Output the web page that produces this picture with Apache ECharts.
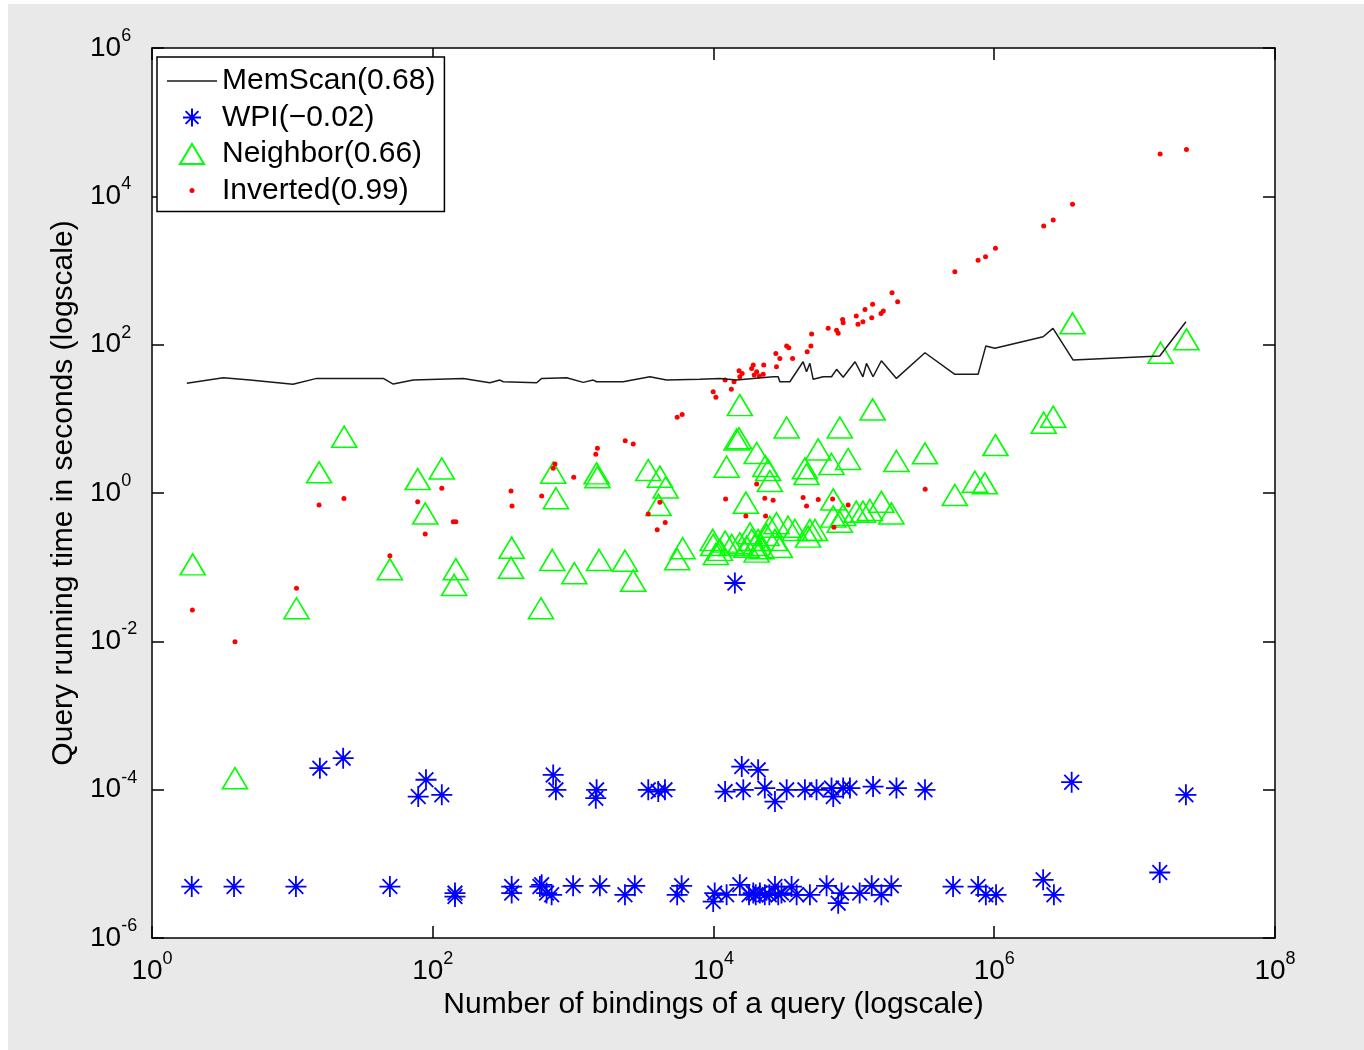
<!DOCTYPE html>
<html lang="en">
<head>
    <meta charset="UTF-8">
    <title>Query running time vs bindings</title>
    <script src="https://cdn.jsdelivr.net/npm/echarts@6/dist/echarts.min.js"></script>
    <style>
        html, body { margin: 0; padding: 0; background: #fff; }
        #chart { position: absolute; left: 8px; top: 4px; width: 1356px; height: 1046px; }
    </style>
</head>
<body>
<div id="chart"></div>

<script>
    // tick positions (every second decade)
    var xTicks = [1, 1e2, 1e4, 1e6, 1e8];
    var yTicks = [1e-6, 1e-4, 1e-2, 1, 1e2, 1e4, 1e6];

    // MemScan line (x = bindings, y = seconds)
    var memX = [1.77, 3.22, 4.99, 10.1, 14.9, 44.4, 52.3, 72.6, 165, 255, 301, 318, 550, 597, 899,
        1180, 1390, 1470, 2270, 3520, 4630, 8000, 11100, 14600, 19200, 26600, 28900, 29700, 35000,
        43500, 46000, 48600, 51300, 60400, 69300, 75300, 83900, 1.02e5, 1.16e5, 1.23e5, 1.37e5,
        1.57e5, 2.01e5, 3.21e5, 5.24e5, 7.67e5, 8.71e5, 1.01e6, 2.23e6, 2.62e6, 3.65e6, 1.51e7, 2.32e7];
    var memY = [30.1, 35.8, 33.3, 29.2, 35.1, 35.1, 29.4, 33.3, 35.1, 30.7, 33.3, 31.6, 30.7, 35.1, 35.8,
        31.0, 33.3, 31.6, 31.6, 36.9, 33.3, 34.1, 35.1, 33.3, 35.1, 36.9, 36.9, 31.6, 31.6,
        58.8, 43.1, 56.0, 34.1, 36.9, 36.9, 46.5, 36.3, 58.8, 36.9, 56.0, 36.9,
        60.7, 35.1, 77.8, 39.8, 39.8, 95.7, 89.2, 128, 166, 62.0, 70.2, 204];

    // WPI
    var wpiX = [1.92, 3.84, 10.6, 49.5, 144, 144, 365, 365, 580, 15.7, 23.0, 78.8, 89.5, 116, 721,
        754, 1470, 1450, 3430, 4040, 4510, 12100, 15900, 16300, 20800, 23200, 27400, 33200, 44800, 54200,
        69300, 71300, 83900, 93700, 1.37e5, 2.01e5, 3.21e5, 597, 703, 1000, 1550, 2340, 2750, 5510, 5930,
        9950, 10200, 12400, 15400, 19200, 21400, 23200, 27400, 28900, 36000, 39100, 48600, 63900, 77300, 81700,
        1.10e5, 1.34e5, 1.57e5, 1.85e5, 5.09e5, 7.67e5, 8.71e5, 1.03e6, 2.23e6, 2.66e6,
        1.51e7, 3.56e6, 2.32e7, 14200, 17900, 20000, 25000, 30500, 647];
    var wpiY = [4.94e-6, 4.94e-6, 4.94e-6, 4.94e-6, 4.03e-6, 3.62e-6, 4.94e-6, 4.03e-6, 4.94e-6,
        1.95e-4, 2.66e-4, 8.07e-5, 1.36e-4, 8.51e-5, 1.58e-4, 9.94e-5, 9.94e-5, 7.68e-5, 9.94e-5,
        9.42e-5, 9.94e-5, 9.42e-5, 2.05e-4, 9.94e-5, 1.85e-4, 1.05e-4, 6.91e-5, 9.94e-5, 9.94e-5,
        9.94e-5, 1.05e-4, 8.07e-5, 1.05e-4, 1.05e-4, 1.10e-4, 1.05e-4, 9.94e-5,
        5.21e-6, 3.82e-6, 5.06e-6, 5.06e-6, 3.82e-6, 5.06e-6, 3.82e-6, 5.06e-6,
        3.10e-6, 4.03e-6, 3.82e-6, 5.21e-6, 4.03e-6, 4.03e-6, 3.82e-6, 4.94e-6, 3.82e-6, 4.94e-6,
        3.82e-6, 3.82e-6, 5.06e-6, 2.95e-6, 4.03e-6, 4.03e-6, 5.06e-6, 3.82e-6, 5.06e-6, 4.94e-6,
        4.94e-6, 3.82e-6, 3.82e-6, 6.09e-6, 3.82e-6, 7.64e-6, 1.26e-4, 8.51e-5, 0.0612,
        3.82e-6, 3.82e-6, 3.82e-6, 4.03e-6, 4.03e-6];

    // Neighbor
    var nbX = [1.95, 10.7, 15.5, 23.4, 78.1, 88.4, 116, 49.5, 146, 142, 365, 361, 721, 754, 710,
        1020, 590, 1470, 1490, 1530, 2340, 2680, 3430, 4150, 4560, 4060, 6030, 5510, 9860, 10400,
        15400, 33200, 79400, 1.36e5, 14600, 15200, 12400, 20300, 23400, 24500, 25200, 55700, 44800, 46000, 69300,
        91000, 2.01e5, 3.21e5, 1.02e6, 5.24e5, 7.28e5, 8.57e5, 17000, 71300, 9950,
        12100, 13500, 15400, 18200, 18700, 19700, 20800, 22000, 23900, 28100, 34000, 38000, 48600, 52800, 47200,
        71300, 79400, 83900, 1.04e5, 1.16e5, 1.30e5, 1.57e5, 1.85e5, 25200, 17200,
        20300, 3.61e6, 1.53e7, 2.34e7, 2.25e6, 2.63e6, 3.90, 11100, 29700, 27400];
    var nbY = [0.109, 0.0279, 1.90, 5.74, 1.54, 0.53, 2.14, 0.094, 0.094, 0.0575, 0.183, 0.0985, 1.88, 0.85, 0.125,
        0.0828, 0.0279, 1.84, 1.63, 0.125, 0.122, 0.0658, 2.04, 1.66, 1.19, 0.69, 0.18, 0.128, 0.233, 0.151,
        15.3, 7.63, 7.63, 13.4, 5.26, 5.46, 2.26, 3.46, 2.31, 2.04, 1.45, 3.86, 2.15, 1.80, 2.46,
        2.87, 2.70, 3.43, 4.43, 0.94, 1.42, 1.35, 0.74, 0.82, 0.199,
        0.221, 0.199, 0.21, 0.286, 0.233, 0.199, 0.233, 0.18, 0.272, 0.391, 0.351, 0.317, 0.317, 0.317, 0.258,
        0.48, 0.41, 0.506, 0.56, 0.56, 0.59, 0.76, 0.53, 0.351, 0.189,
        0.162, 194, 77.8, 118, 8.86, 10.7, 1.43e-4, 0.171, 0.187, 0.233];

    // Inverted
    var invX = [1.94, 3.90, 10.7, 15.5, 23.3, 49.5, 78.1, 88.4, 116, 140, 146, 361, 367, 597, 721,
        742, 1010, 1450, 1490, 2350, 2680, 3430, 4150, 3970, 4530, 5510, 5980, 9950, 10400, 12100,
        13400, 14000, 15200, 15400, 16000, 18700, 19200, 19500, 20300, 21200, 22600, 22800, 28100, 27800, 29700,
        33200, 34400, 36600, 46500, 49400, 50000, 65600, 75300, 77300, 83100, 83900, 1.04e5, 1.07e5, 1.16e5, 1.20e5,
        1.34e5, 1.36e5, 1.56e5, 1.62e5, 1.87e5, 2.05e5, 20300, 12200, 23200, 26600,
        17000, 23500, 43500, 46000, 55700, 70500, 91000, 72100, 3.22e5, 5.24e5,
        7.67e5, 8.67e5, 1.02e6, 2.25e6, 2.63e6, 3.61e6, 1.52e7, 2.34e7];
    var invY = [0.0265, 0.0099, 0.052, 0.69, 0.84, 0.142, 0.76, 0.28, 1.16, 0.41, 0.41, 1.06, 0.67, 0.91, 2.15,
        2.46, 1.63, 3.32, 4.0, 5.07, 4.58, 0.52, 0.75, 0.32, 0.40, 10.5, 11.4, 23.2, 19.5, 33.3,
        25.0, 31.6, 44.5, 36.9, 41.0, 47.9, 53.1, 38.9, 43.1, 37.7, 39.8, 53.1, 50.4, 76.3, 65.3,
        95.7, 90.8, 65.3, 80.2, 95.7, 139, 166, 157, 142, 219, 197, 243, 188, 204, 299,
        231, 352, 264, 284, 500, 378, 1.32, 0.83, 0.85, 0.80,
        0.49, 0.49, 0.87, 0.67, 0.82, 0.83, 0.69, 0.345, 1.12, 960,
        1380, 1530, 1990, 3970, 4780, 7850, 37100, 42900];

    var seriesNames = ['MemScan(0.68)', 'WPI(\u22120.02)', 'Neighbor(0.66)', 'Inverted(0.99)'];

    function zip(xs, ys) {
        var out = [];
        for (var i = 0; i < xs.length; i++) out.push([xs[i], ys[i]]);
        return out;
    }

    var FONT = '"Liberation Sans", Arial, sans-serif';
    var asterisk = 'path://M10,0L10,20M0,10L20,10M3,3L17,17M17,3L3,17';

    // 10^n labels
    function powLabel(v) {
        var e = Math.round(Math.log10(v));
        return '{b|10}{s|' + (e < 0 ? '-' + (-e) : e) + '}';
    }
    var powRich = {
        b: {fontSize: 28, fontFamily: FONT, color: '#000', lineHeight: 42, verticalAlign: 'middle'},
        s: {fontSize: 18, fontFamily: FONT, color: '#000', lineHeight: 15, verticalAlign: 'top'}
    };

    function boxAxis(pos, isY) {
        var ticks = isY ? yTicks : xTicks;
        return {
            type: 'log', logBase: 10, position: pos,
            min: ticks[0], max: ticks[ticks.length - 1],
            axisLine: {show: true, onZero: false, lineStyle: {color: '#000', width: 1.5}},
            axisTick: {show: true, inside: true, length: 12, customValues: ticks,
                lineStyle: {color: '#000', width: 1.5}},
            minorTick: {show: false},
            splitLine: {show: false},
            axisLabel: {show: false}
        };
    }

    var xMain = boxAxis('bottom', false);
    xMain.name = 'Number of bindings of a query (logscale)';
    xMain.nameLocation = 'middle';
    xMain.nameGap = 47;
    xMain.nameTextStyle = {fontSize: 30, fontFamily: FONT, color: '#000'};
    xMain.axisLabel = {show: true, margin: 12, customValues: xTicks, formatter: powLabel, rich: powRich};

    var yMain = boxAxis('left', true);
    yMain.name = 'Query running time in seconds (logscale)';
    yMain.nameLocation = 'middle';
    yMain.nameGap = 72;
    yMain.nameTextStyle = {fontSize: 30, fontFamily: FONT, color: '#000'};
    yMain.axisLabel = {show: true, margin: 62, align: 'left', customValues: yTicks, formatter: powLabel, rich: powRich};

    var myChart = echarts.init(document.getElementById('chart'));
    var option = {
        animation: false,
        backgroundColor: '#e9e9e9',
        grid: {
            left: 144, top: 44, right: 89, bottom: 112,
            show: true, backgroundColor: '#fff', borderWidth: 0,
            outerBoundsMode: 'none'
        },
        legend: {
            orient: 'vertical', left: 149, top: 53,
            padding: [9, 9, 6, 9],
            itemWidth: 50, itemHeight: 22, itemGap: 6.5,
            backgroundColor: '#fff', borderColor: '#000', borderWidth: 1.5, borderRadius: 0,
            textStyle: {fontSize: 30, fontFamily: FONT, color: '#000'},
            data: [
                {name: seriesNames[0], icon: 'path://M0,0M50,22M0,10.2L50,10.2L50,11.8L0,11.8Z'},
                {name: seriesNames[1], icon: 'path://M0,0M50,22M25,2L25,20M16,11L34,11M18.6,4.6L31.4,17.4M31.4,4.6L18.6,17.4'},
                {name: seriesNames[2], icon: 'path://M0,0M50,22M25,1L37,21L13,21Z'},
                {name: seriesNames[3], icon: 'path://M0,0M50,22M22.5,11a2.5,2.5 0 1,0 5,0a2.5,2.5 0 1,0 -5,0Z'}
            ]
        },
        xAxis: [xMain, boxAxis('top', false)],
        yAxis: [yMain, boxAxis('right', true)],
        series: [
            {
                name: seriesNames[0], type: 'line', symbol: 'none',
                lineStyle: {color: '#1a1a1a', width: 1.5},
                itemStyle: {color: '#1a1a1a'},
                data: zip(memX, memY)
            },
            {
                name: seriesNames[1], type: 'scatter', symbol: asterisk, symbolSize: 21,
                itemStyle: {color: 'rgba(0,0,0,0)', borderColor: '#0000ff', borderWidth: 1.8, opacity: 1},
                data: zip(wpiX, wpiY)
            },
            {
                name: seriesNames[2], type: 'scatter', symbol: 'triangle', symbolSize: [25, 21],
                itemStyle: {color: 'rgba(0,0,0,0)', borderColor: '#00ff00', borderWidth: 1.6, opacity: 1},
                data: zip(nbX, nbY)
            },
            {
                name: seriesNames[3], type: 'scatter', symbol: 'circle', symbolSize: 5,
                itemStyle: {color: '#ff0000', opacity: 1},
                data: zip(invX, invY)
            }
        ]
    };
    myChart.setOption(option);
</script>

</body>
</html>
